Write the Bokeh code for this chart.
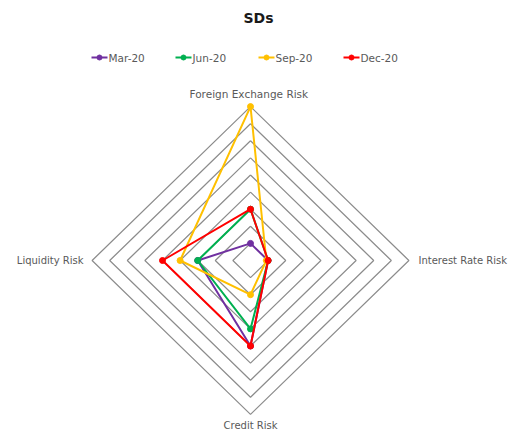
import numpy as np
from bokeh.plotting import figure
from bokeh.models import Range1d
from bokeh.core.properties import value
from bokeh.embed import file_html
from bokeh.resources import INLINE

# ---- data ----
categories = ["Foreign Exchange  Risk", "Interest Rate Risk", "Credit Risk", "Liquidity Risk"]
series_names = ["Mar-20", "Jun-20", "Sep-20", "Dec-20"]
mar20 = [1.0, 1.0, 5.0, 3.0]
jun20 = [3.0, 1.0, 4.0, 3.0]
sep20 = [9.0, 0.9, 2.0, 4.0]
dec20 = [3.0, 1.0, 5.0, 5.0]
grid_levels = [1, 2, 3, 4, 5, 6, 7, 8, 9]
colors = ["#7030A0", "#00B050", "#FFC000", "#FF0000"]

# ---- layout mapping (page pixels) ----
W, H = 511, 433
OFF = 0
CX, CY = 250.0, 260.0     # page px of centre
SX, SY = 17.6, 17.1       # px per unit

def px(xp):
    return (xp - CX) / SX

def py(yp):
    return (CY - yp) / SY

p = figure(width=W, height=H, output_backend="svg", toolbar_location=None,
           x_range=Range1d(px(OFF), px(OFF + W)), y_range=Range1d(py(OFF + H), py(OFF)),
           min_border=0)
p.axis.visible = False
p.grid.visible = False
p.outline_line_color = None

angles = [np.pi / 2, 0.0, -np.pi / 2, np.pi]
dx = [np.cos(a) for a in angles]
dy = [np.sin(a) for a in angles]

# grid rings
for lv in grid_levels:
    xs = [lv * c for c in dx] + [lv * dx[0]]
    ys = [lv * s for s in dy] + [lv * dy[0]]
    p.line(xs, ys, line_color="#8C8C8C", line_width=1.2)

# series
all_series = [mar20, jun20, sep20, dec20]
for vals, col in zip(all_series, colors):
    xs = [v * c for v, c in zip(vals, dx)]
    ys = [v * s for v, s in zip(vals, dy)]
    p.line(xs + [xs[0]], ys + [ys[0]], line_color=col, line_width=2)
    p.scatter(xs, ys, size=6, fill_color=col, line_color=col)

font = value("DejaVu Sans")
txt_col = "#595959"

# category labels
p.text([px(250)], [py(93)], text=[categories[0]], text_align="center", text_baseline="middle",
       text_font=font, text_font_size="10.5px", text_color=txt_col)
p.text([px(418)], [py(260)], text=[categories[1]], text_align="left", text_baseline="middle",
       text_font=font, text_font_size="10px", text_color=txt_col)
p.text([px(250)], [py(425)], text=[categories[2]], text_align="center", text_baseline="middle",
       text_font=font, text_font_size="10px", text_color=txt_col)
p.text([px(83)], [py(260)], text=[categories[3]], text_align="right", text_baseline="middle",
       text_font=font, text_font_size="10px", text_color=txt_col)

# title
p.text([px(258)], [py(17)], text=["SDs"], text_align="center", text_baseline="middle",
       text_font=font, text_font_size="14px", text_font_style="bold", text_color="#1a1a1a")

# legend
leg_x = [91, 175, 258, 343]
leg_y = py(57)
for x0, name, col in zip(leg_x, series_names, colors):
    p.line([px(x0), px(x0 + 16)], [leg_y, leg_y], line_color=col, line_width=2)
    p.scatter([px(x0 + 8)], [leg_y], size=5, fill_color=col, line_color=col)
    p.text([px(x0 + 17)], [leg_y], text=[name], text_align="left", text_baseline="middle",
           text_font=font, text_font_size="10.5px", text_color=txt_col)

open("out.html", "w").write(file_html(p, INLINE))
